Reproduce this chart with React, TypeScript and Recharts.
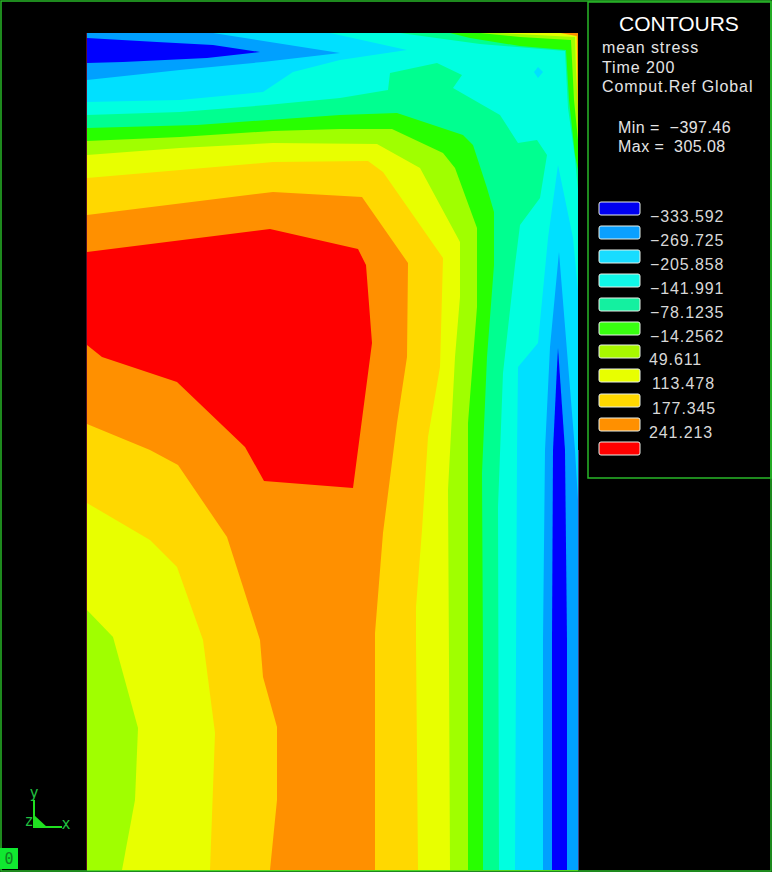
import React from "react";
import { ScatterChart, Scatter, XAxis, YAxis, ReferenceArea, ReferenceLine } from "recharts";

type P = [number, number];
const pts = (list: P[]) => list.map(([x, y]) => ({ x, y }));

const C = {
  dark: "#0000ff", medium: "#00a0ff", sky: "#00e0ff", turq: "#00ffe0", mint: "#00ff90",
  green: "#28ff00", lime: "#a0ff00", yellow: "#e8ff00", gold: "#ffd800", orange: "#ff9000", red: "#ff0000",
};

const plotRect: P[] = [[87, 33], [578, 33], [578, 870], [87, 870]];
const darkTopLeft: P[] = [[87, 38], [157, 42], [213, 45], [260, 52], [207, 58], [123, 62], [87, 63]];
const darkRight: P[] = [[558, 348], [557, 367], [553, 450], [552, 640], [552, 870], [567, 870], [567, 640], [565, 450]];
const skyBand: P[] = [[213, 33], [578, 33], [578, 500], [575, 450], [559, 252], [550, 347], [545, 450], [543, 640], [543, 870], [87, 870], [87, 80], [180, 70], [263, 62], [340, 53]];
const turqBand: P[] = [[330, 33], [578, 33], [578, 290], [573, 238], [558, 165], [548, 238], [538, 343], [518, 367], [517, 450], [515, 870], [87, 870], [87, 102], [180, 100], [263, 92], [293, 72], [340, 60], [407, 50]];
const skySpot: P[] = [[538, 67], [543, 72], [538, 78], [534, 72]];
const mintBand: P[] = [[87, 115], [180, 112], [267, 105], [340, 98], [388, 90], [390, 73], [437, 63], [462, 75], [453, 88], [500, 115], [518, 143], [537, 140], [547, 155], [540, 198], [520, 225], [515, 265], [503, 373], [498, 507], [499, 870], [87, 870]];
const mintEdge: P[] = [[400, 33], [578, 33], [578, 190], [575, 158], [568, 108], [565, 51], [480, 44]];
const greenBand: P[] = [[87, 128], [197, 125], [340, 115], [397, 113], [463, 135], [473, 145], [487, 188], [494, 212], [494, 265], [487, 357], [482, 473], [483, 660], [483, 870], [87, 870]];
const greenEdge: P[] = [[450, 33], [578, 33], [578, 170], [575, 155], [569, 100], [566, 50], [520, 46], [470, 38]];
const limeBand: P[] = [[87, 141], [180, 137], [273, 131], [340, 129], [392, 129], [443, 153], [455, 168], [477, 228], [477, 307], [468, 423], [468, 870], [87, 870]];
const limeEdge: P[] = [[480, 33], [578, 33], [578, 140], [574, 100], [571, 40], [520, 37]];
const yellowBand: P[] = [[87, 155], [180, 148], [273, 143], [377, 144], [420, 168], [460, 242], [460, 297], [455, 357], [448, 490], [449, 660], [450, 870], [87, 870]];
const yellowEdge: P[] = [[500, 33], [578, 33], [578, 110], [576, 70], [575, 37]];
const goldBand: P[] = [[87, 178], [273, 162], [368, 161], [383, 172], [443, 258], [440, 367], [428, 437], [422, 530], [416, 607], [416, 640], [418, 870], [87, 870]];
const orangeEdge: P[] = [[560, 33], [578, 33], [578, 140], [576.8, 36]];
const orangeBand: P[] = [[87, 215], [273, 192], [362, 197], [408, 263], [407, 357], [397, 423], [383, 533], [375, 633], [375, 870], [270, 870], [277, 800], [277, 727], [263, 677], [260, 640], [227, 537], [178, 465], [150, 450], [87, 424]];
const yellowLeft: P[] = [[87, 503], [150, 540], [177, 567], [203, 640], [215, 733], [210, 870], [87, 870]];
const limeLeft: P[] = [[87, 610], [113, 637], [138, 728], [135, 800], [122, 870], [87, 870]];
const redCore: P[] = [[87, 252], [270, 229], [358, 249], [366, 265], [372, 343], [353, 488], [264, 481], [245, 447], [177, 382], [102, 357], [87, 345]];
const triadWedge: P[] = [[34, 815], [34, 828], [48, 828]];

const layers: [P[], string][] = [
  [plotRect, C.medium], [darkTopLeft, C.dark], [darkRight, C.dark], [skyBand, C.sky], [turqBand, C.turq],
  [skySpot, C.sky], [mintBand, C.mint], [mintEdge, C.mint], [greenBand, C.green], [greenEdge, C.green],
  [limeBand, C.lime], [limeEdge, C.lime], [yellowBand, C.yellow], [yellowEdge, C.yellow], [goldBand, C.gold],
  [orangeEdge, C.orange], [orangeBand, C.orange], [yellowLeft, C.yellow], [limeLeft, C.lime], [redCore, C.red],
  [triadWedge, "#20e020"],
];

const legendLabels = ["−333.592", "−269.725", "−205.858", "−141.991", "−78.1235", "−14.2562", "49.611", "113.478", "177.345", "241.213", ""];
const legendColors = ["#0000f0", "#0aa0ff", "#18dcff", "#10f8e8", "#14f0a0", "#38ff10", "#a8f800", "#e8ff00", "#ffd800", "#ff9000", "#ff0000"];
const legendTops = [202, 226, 250, 274, 298, 322, 345, 369, 394, 418, 442];
const legendX = [650, 650, 650, 650, 650, 650, 649, 652, 652, 649, 650];
const infoLines = ["mean stress", "Time 200", "Comput.Ref Global"];
const rangeLines = ["Min =  −397.46", "Max =  305.08"];
const frameLabel = "0";

const polygonLine = (fill: string) => (props: any) => (
  <polygon points={props.points.map((p: any) => `${p.x},${p.y}`).join(" ")} fill={fill} stroke="none" />
);

const FONT = '"Liberation Sans", Arial, sans-serif';
const MONO = '"DejaVu Sans Mono", monospace';

export default function App() {
  return (
    <div style={{ position: "absolute", left: 0, top: 0, width: 772, height: 872, background: "#000", overflow: "hidden" }}>
      <ScatterChart width={772} height={872} margin={{ top: 0, right: 0, bottom: 0, left: 0 }}>
        <XAxis type="number" dataKey="x" domain={[0, 772]} hide />
        <YAxis type="number" dataKey="y" domain={[0, 872]} reversed hide />
        {layers.map(([list, fill], i) => (
          <Scatter key={i} data={pts(list)} line={polygonLine(fill)} shape={() => <g />} isAnimationActive={false} />
        ))}
        <ReferenceLine segment={[{ x: 87, y: 33 }, { x: 87, y: 870 }]} stroke="#c02060" strokeOpacity={0.8} />
        <ReferenceLine segment={[{ x: 87, y: 870 }, { x: 578, y: 870 }]} stroke="#50d820" strokeWidth={2} />
        <ReferenceLine segment={[{ x: 578, y: 450 }, { x: 578, y: 870 }]} stroke="#8080ff" />
        <ReferenceArea x1={1} x2={771} y1={1} y2={871} fill="none" stroke="#28b828" strokeWidth={1.5} />
        <ReferenceArea x1={588} x2={771} y1={2} y2={478} fill="none" stroke="#28b828" strokeWidth={1.5} />
        {legendColors.map((c, i) => (
          <ReferenceArea key={c} x1={599} x2={640} y1={legendTops[i]} y2={legendTops[i] + 13} fill={c} fillOpacity={1} stroke="#e8f0e8" strokeWidth={1} radius={2} />
        ))}
        <ReferenceArea
          x1={0} x2={18} y1={848} y2={869} fill="#10e830" fillOpacity={1} stroke="none"
          label={{ value: frameLabel, position: "center", fill: "#108020", fontFamily: MONO, fontSize: 15 }}
        />
        <ReferenceLine segment={[{ x: 34, y: 800 }, { x: 34, y: 828 }]} stroke="#20e020" strokeWidth={2} />
        <ReferenceLine segment={[{ x: 34, y: 827 }, { x: 62, y: 827 }]} stroke="#20e020" strokeWidth={2} />
        <text x={679} y={31} fill="#fff" fontFamily={FONT} fontSize={21} textAnchor="middle">CONTOURS</text>
        {infoLines.map((t, i) => (
          <text key={t} x={602} y={53 + i * 19.5} fill="#e4e4e4" fontFamily={FONT} fontSize={16} letterSpacing={0.9}>{t}</text>
        ))}
        {rangeLines.map((t, i) => (
          <text key={t} x={618} y={133 + i * 19} fill="#e4e4e4" fontFamily={FONT} fontSize={16} letterSpacing={0.45} style={{ whiteSpace: "pre" }}>{t}</text>
        ))}
        {legendLabels.map((t, i) => (
          <text key={i} x={legendX[i]} y={legendTops[i] + 20} fill="#d8d8d8" fontFamily={FONT} fontSize={16} letterSpacing={0.9}>{t}</text>
        ))}
        <text x={34} y={798} fill="#20c040" fontFamily={MONO} fontSize={15} textAnchor="middle">y</text>
        <text x={29} y={826} fill="#20c040" fontFamily={MONO} fontSize={15} textAnchor="middle">z</text>
        <text x={66} y={829} fill="#20c040" fontFamily={MONO} fontSize={15} textAnchor="middle">x</text>
      </ScatterChart>
    </div>
  );
}
